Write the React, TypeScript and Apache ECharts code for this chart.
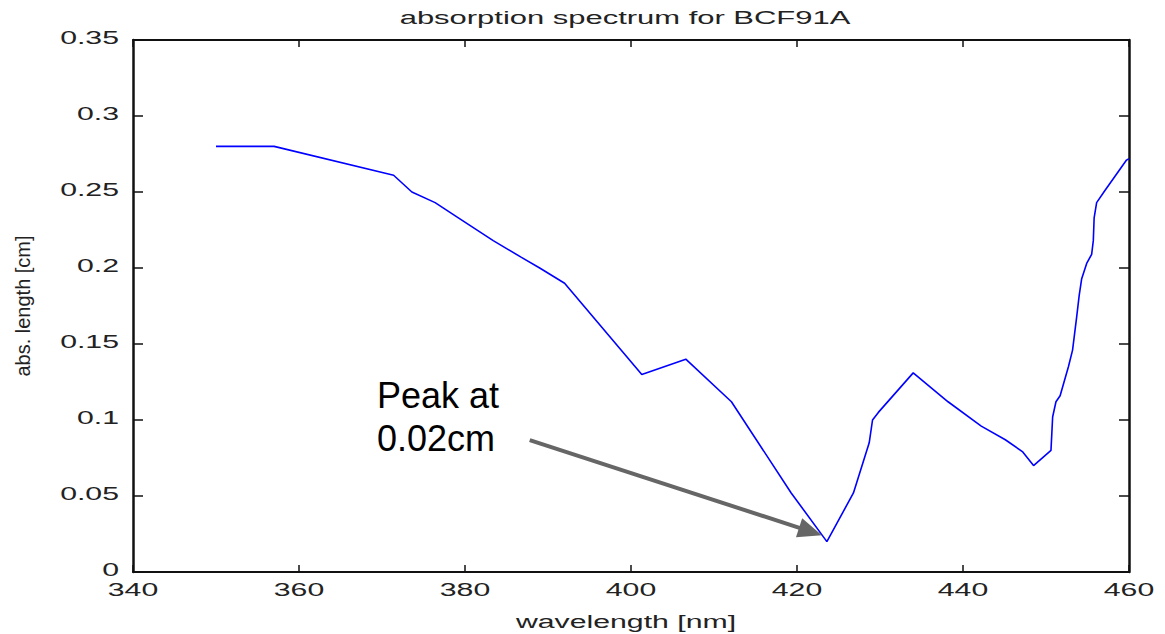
import React, { useEffect, useRef } from "react";
import * as echarts from "echarts";

// ---- data ----
const wavelengths = [
  350, 357, 371.4, 373.6, 376.4, 379.2, 383.4, 386.8, 389, 392, 401.3, 406.6,
  412.1, 419.3, 423.6, 426.8, 428.7, 429.1, 429.8, 434, 438.2, 442.2, 445.1,
  447.2, 448.5, 450.6, 450.8, 451.2, 451.7, 452.7, 453.2, 453.7, 454.0, 454.3,
  454.9, 455.5, 455.7, 455.8, 456.1, 457.1, 459.7, 460,
];
const absLength = [
  0.28, 0.28, 0.261, 0.25, 0.243, 0.233, 0.218, 0.207, 0.2, 0.19, 0.13, 0.14,
  0.112, 0.052, 0.02, 0.052, 0.085, 0.1, 0.105, 0.131, 0.112, 0.096, 0.087,
  0.079, 0.07, 0.08, 0.102, 0.112, 0.116, 0.135, 0.146, 0.168, 0.182, 0.193,
  0.203, 0.209, 0.218, 0.233, 0.243, 0.251, 0.271, 0.272,
];
const xTickValues = [340, 360, 380, 400, 420, 440, 460];
const xTickLabels = ["340", "360", "380", "400", "420", "440", "460"];
const yTickValues = [0, 0.05, 0.1, 0.15, 0.2, 0.25, 0.3, 0.35];
const yTickLabels = ["0", "0.05", "0.1", "0.15", "0.2", "0.25", "0.3", "0.35"];

const titleText = "absorption spectrum for BCF91A";
const xName = "wavelength [nm]";
const yName = "abs. length [cm]";
const annotationText = "Peak at\n0.02cm";
// annotation anchors in data units
const annotationTextAt = [369.4, 0.1305];
const arrowFrom = [387.8, 0.0868];
const arrowTo = [423.0, 0.0242];

const FONT = '"Liberation Sans", Arial, sans-serif';
const AXIS_COLOR = "#111";
const LABEL_COLOR = "#222";

function makeText(
  text: string,
  x: number,
  y: number,
  size: number,
  align: string,
  vAlign: string,
  scaleX: number,
  fill: string,
  lineHeight?: number
) {
  return {
    type: "text",
    x,
    y,
    scaleX,
    scaleY: 1,
    silent: true,
    z: 100,
    style: {
      text,
      x: 0,
      y: 0,
      fill,
      fontSize: size,
      fontFamily: FONT,
      align,
      verticalAlign: vAlign,
      textAlign: align,
      textVerticalAlign: vAlign,
      lineHeight: lineHeight ?? size * 1.2,
    },
  };
}

export default function App() {
  const ref = useRef<HTMLDivElement>(null);

  useEffect(() => {
    if (!ref.current) return;
    const chart = echarts.init(ref.current, null, { renderer: "svg" });

    const axisCommonX = (position: string) => ({
      type: "value",
      min: 340,
      max: 460,
      interval: 20,
      position,
      axisLine: { show: true, onZero: false, lineStyle: { color: AXIS_COLOR, width: 2 } },
      axisTick: { show: true, inside: true, length: 7, lineStyle: { color: AXIS_COLOR, width: 1.5 } },
      axisLabel: { show: false },
      splitLine: { show: false },
    });
    const axisCommonY = (position: string) => ({
      type: "value",
      min: 0,
      max: 0.35,
      interval: 0.05,
      position,
      axisLine: { show: true, onZero: false, lineStyle: { color: AXIS_COLOR, width: 2.5 } },
      axisTick: { show: true, inside: true, length: 10, lineStyle: { color: AXIS_COLOR, width: 1.5 } },
      axisLabel: { show: false },
      splitLine: { show: false },
    });

    chart.setOption({
      animation: false,
      backgroundColor: "#ffffff",
      grid: { left: 133, right: 36, top: 40, bottom: 62, containLabel: false },
      xAxis: [axisCommonX("bottom"), axisCommonX("top")],
      yAxis: [
        {
          ...axisCommonY("left"),
          name: yName,
          nameLocation: "middle",
          nameGap: 100,
          nameTextStyle: { color: LABEL_COLOR, fontSize: 20, fontFamily: FONT },
        },
        axisCommonY("right"),
      ],
      series: [
        {
          type: "line",
          xAxisIndex: 0,
          yAxisIndex: 0,
          data: wavelengths.map((w, i) => [w, absLength[i]]),
          showSymbol: false,
          symbol: "none",
          silent: true,
          lineStyle: { color: "#0000ff", width: 1.6 },
        },
      ],
    });

    const toPx = (x: number, y: number) =>
      chart.convertToPixel({ seriesIndex: 0 }, [x, y]) as number[];

    const graphics: any[] = [];
    const SX = 1.68;

    // tick labels
    xTickValues.forEach((v, i) => {
      const p = toPx(v, 0);
      graphics.push(makeText(xTickLabels[i], p[0], p[1] + 17.5, 18, "center", "middle", SX, LABEL_COLOR));
    });
    yTickValues.forEach((v, i) => {
      const p = toPx(340, v);
      graphics.push(makeText(yTickLabels[i], p[0] - 14, p[1] - 3, 18, "right", "middle", SX, LABEL_COLOR));
    });

    // title and x axis name
    const pl = toPx(340, 0);
    const pr = toPx(460, 0.35);
    const cx = (pl[0] + pr[0]) / 2;
    graphics.push(makeText(titleText, cx - 6, pr[1] - 22, 18, "center", "middle", 1.72, LABEL_COLOR));
    graphics.push(makeText(xName, cx - 5, pl[1] + 49, 18, "center", "middle", SX, LABEL_COLOR));

    // annotation text
    const ta = toPx(annotationTextAt[0], annotationTextAt[1]);
    graphics.push(makeText(annotationText, ta[0], ta[1], 36, "left", "top", 1, "#000", 43.5));

    // arrow
    const a = toPx(arrowFrom[0], arrowFrom[1]);
    const b = toPx(arrowTo[0], arrowTo[1]);
    const dx = b[0] - a[0];
    const dy = b[1] - a[1];
    const len = Math.sqrt(dx * dx + dy * dy);
    const ux = dx / len;
    const uy = dy / len;
    const headLen = 24;
    const headHalf = 10;
    const bx = b[0] - ux * headLen;
    const by = b[1] - uy * headLen;
    graphics.push({
      type: "line",
      silent: true,
      z: 100,
      shape: { x1: a[0], y1: a[1], x2: bx + ux * 2, y2: by + uy * 2 },
      style: { stroke: "#666666", lineWidth: 4 },
    });
    graphics.push({
      type: "polygon",
      silent: true,
      z: 100,
      shape: {
        points: [
          [b[0], b[1]],
          [bx - uy * headHalf, by + ux * headHalf],
          [bx + uy * headHalf, by - ux * headHalf],
        ],
      },
      style: { fill: "#666666" },
    });

    chart.setOption({ graphic: graphics });

    return () => {
      chart.dispose();
    };
  }, []);

  return (
    <div
      ref={ref}
      style={{ position: "absolute", left: 0, top: 0, width: 1165, height: 634, background: "#fff" }}
    />
  );
}
